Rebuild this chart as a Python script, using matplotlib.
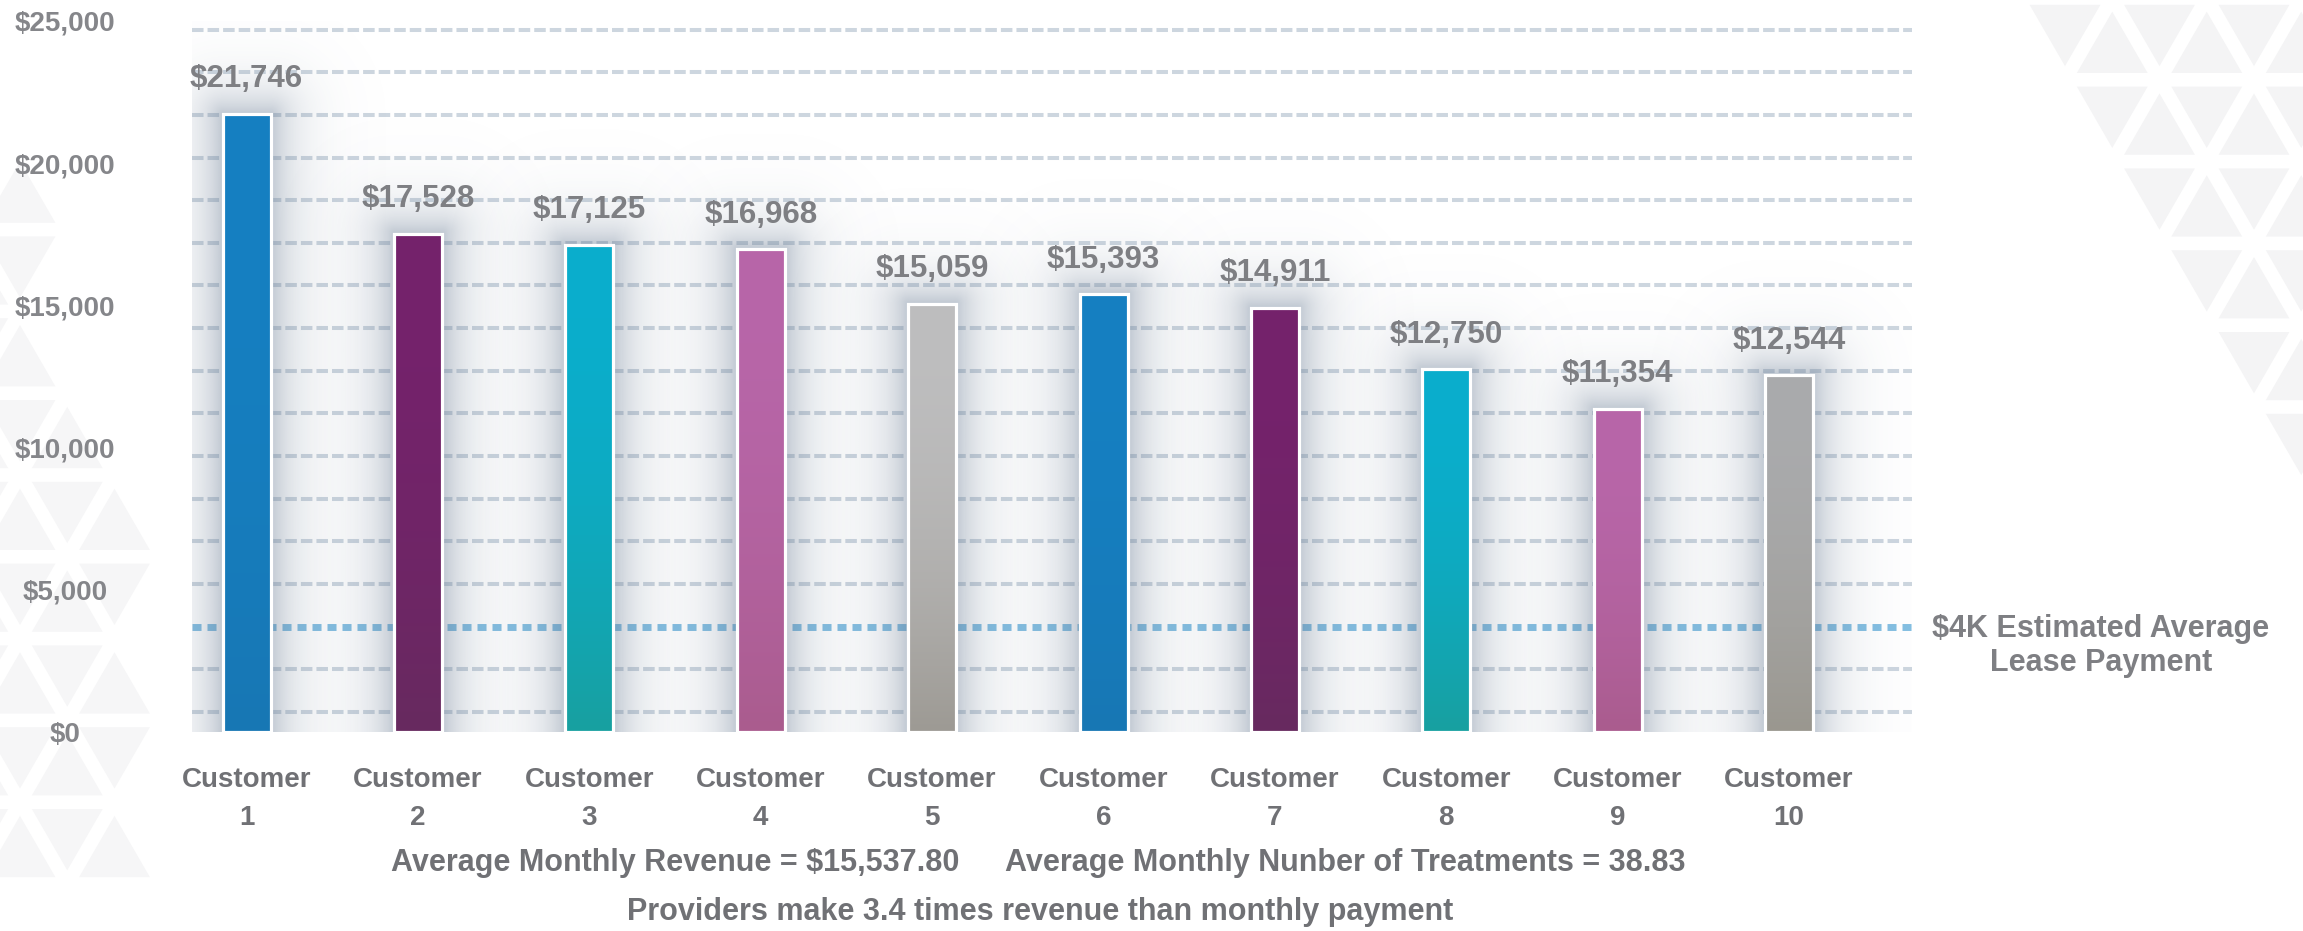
import numpy as np
import matplotlib
matplotlib.use("Agg")
import matplotlib.pyplot as plt
from matplotlib.patches import Polygon
from matplotlib.colors import to_rgb

plt.rcParams['font.family'] = ['Liberation Sans', 'DejaVu Sans']
plt.rcParams['lines.scale_dashes'] = False

# ---------------- data ----------------
customers = ["Customer\n1", "Customer\n2", "Customer\n3", "Customer\n4", "Customer\n5",
             "Customer\n6", "Customer\n7", "Customer\n8", "Customer\n9", "Customer\n10"]
revenue = [21746, 17528, 17125, 16968, 15059, 15393, 14911, 12750, 11354, 12544]
value_labels = ["$21,746", "$17,528", "$17,125", "$16,968", "$15,059",
                "$15,393", "$14,911", "$12,750", "$11,354", "$12,544"]
ytick_values = [0, 5000, 10000, 15000, 20000, 25000]
ytick_labels = ["$0", "$5,000", "$10,000", "$15,000", "$20,000", "$25,000"]
grid_levels = [700, 2200, 5200, 6700, 8200, 9700, 11200, 12700, 14200,
               15700, 17200, 18700, 20200, 21700, 23200, 24700]
lease_level = 3700
lease_label = "$4K Estimated Average\nLease Payment"
summary_revenue = "Average Monthly Revenue = $15,537.80"
summary_treatments = "Average Monthly Nunber of Treatments = 38.83"
footer = "Providers make 3.4 times revenue than monthly payment"

# ---------------- styles ----------------
top_colors = ["#1580c2", "#75226c", "#0aaecd", "#b866a9", "#bebebf",
              "#1580c2", "#75226c", "#0aaecd", "#b866a9", "#aaabad"]
bottom_colors = ["#1877b4", "#672a5f", "#18a0a0", "#aa5c8e", "#9d9a94",
                 "#1877b4", "#672a5f", "#18a0a0", "#aa5c8e", "#9a978f"]
label_gray = "#7e7f83"
text_gray = "#707175"

W, H, DPI = 2303, 931, 100
fig = plt.figure(figsize=(W / DPI, H / DPI), dpi=DPI)
fig.patch.set_facecolor("white")

# ---------- decorative triangle background ----------
bg = fig.add_axes([0, 0, 1, 1], zorder=-10)
bg.set_xlim(0, W)
bg.set_ylim(H, 0)
bg.axis("off")


def tiling(phase_x, phase_y, keep, color):
    S, Hh, f = 94.5, 81.8, 0.75
    for r in range(-1, int(H / Hh) + 2):
        yt = phase_y + r * Hh
        yb = yt + Hh
        shift = (r % 2) * S / 2
        for k in range(-2, int(W / S) + 3):
            cx = phase_x + shift + k * S
            tris = [[(cx - S / 2, yt), (cx + S / 2, yt), (cx, yb)],
                    [(cx + S / 2, yt), (cx + S, yb), (cx, yb)]]
            for t in tris:
                t = np.array(t)
                c = t.mean(axis=0)
                if keep(c[0], c[1]):
                    bg.add_patch(Polygon(c + (t - c) * f, closed=True,
                                         facecolor=color, edgecolor="none"))


def keep_right(x, y):
    return x > 2030 + y * 0.55


def keep_left(x, y):
    return (x < 150 and 430 < y < 870) or (x < 45 and 180 < y < 430)


tiling(2065, -2, keep_right, "#f4f4f5")
tiling(20, 66, keep_left, "#f6f6f7")

# ---------------- main axes ----------------
ax = fig.add_axes([192 / W, 1 - 732 / H, (1912 - 192) / W, (732 - 21) / H])
ax.set_xlim(-0.318, 9.717)
ax.set_ylim(0, 25000)
ax.set_autoscale_on(False)
ax.patch.set_alpha(0)
for s in ax.spines.values():
    s.set_visible(False)

xs = np.arange(len(customers))
bar_w = 0.28

for g in grid_levels:
    ax.axhline(g, color="#cdd6df", lw=2.9, ls=(0, (8.3, 2.9)), zorder=1)
ax.axhline(lease_level, color="#84bfe2", lw=5, ls=(0, (6.5, 4.3)), zorder=1)

# pixel scales
p0 = ax.transData.transform((0, 0))
px_x = ax.transData.transform((1, 0))[0] - p0[0]
px_y = ax.transData.transform((0, 1))[1] - p0[1]

# soft glow behind each bar
glow_rgb = np.array(to_rgb("#5f738c"))
G = 120
for x, v in zip(xs, revenue):
    hw = bar_w / 2 * px_x
    top = v * px_y
    gx = np.arange(-hw - G, hw + G, 2.0)
    gy = np.arange(0, top + G, 2.0)
    XX, YY = np.meshgrid(gx, gy)
    dx = np.clip(np.abs(XX) - hw, 0, None)
    dy = np.clip(YY - top, 0, None)
    d = np.hypot(dx, dy)
    a = 0.40 * np.exp(-d / 25.0)
    img = np.zeros(XX.shape + (4,))
    img[..., :3] = glow_rgb
    img[..., 3] = a
    ax.imshow(img, origin="lower", aspect="auto", interpolation="bilinear",
              extent=[x + gx[0] / px_x, x + gx[-1] / px_x, 0, gy[-1] / px_y],
              zorder=2)

bars = ax.bar(xs, revenue, width=bar_w, color=top_colors, edgecolor="none", zorder=3)
for b, tc, bc in zip(bars, top_colors, bottom_colors):
    t = np.linspace(0, 1, 128)[:, None]
    w = (1 - t) ** 2
    col = w * np.array(to_rgb(bc)) + (1 - w) * np.array(to_rgb(tc))
    img = np.repeat(col[:, None, :], 2, axis=1)
    im = ax.imshow(img, origin="lower", aspect="auto", interpolation="bilinear",
                   extent=[b.get_x(), b.get_x() + b.get_width(), 0, b.get_height()],
                   zorder=3.1)
    im.set_clip_path(b)
ax.bar(xs, revenue, width=bar_w, fill=False, edgecolor="white", linewidth=2.3, zorder=3.2)

for x, v, lbl in zip(xs, revenue, value_labels):
    ax.annotate(lbl, (x, v), xytext=(0, 25), textcoords="offset points",
                ha="center", va="center", fontsize=22.5, fontweight="bold",
                color=label_gray, zorder=5)

ax.set_yticks(ytick_values, ytick_labels)
ax.tick_params(axis="y", length=0, pad=91.4, labelsize=20, labelcolor="#85868a")
for t in ax.get_yticklabels():
    t.set_ha("center")
    t.set_fontweight("bold")

ax.set_xticks(xs, customers)
ax.tick_params(axis="x", length=0, pad=25, labelsize=20, labelcolor=text_gray)
for t in ax.get_xticklabels():
    t.set_fontweight("bold")
    t.set_linespacing(1.6)

fig.text(2101 / W, 1 - 646 / H, lease_label, ha="center", va="center",
         fontsize=22, fontweight="bold", color=label_gray, linespacing=1.2)
fig.text(391 / W, 1 - 863 / H, summary_revenue, ha="left", va="center",
         fontsize=22, fontweight="bold", color=text_gray)
fig.text(1005 / W, 1 - 863 / H, summary_treatments, ha="left", va="center",
         fontsize=22, fontweight="bold", color=text_gray)
fig.text(1040 / W, 1 - 912 / H, footer, ha="center", va="center",
         fontsize=22, fontweight="bold", color=text_gray)

fig.savefig("out.png", dpi=DPI, facecolor="white")
